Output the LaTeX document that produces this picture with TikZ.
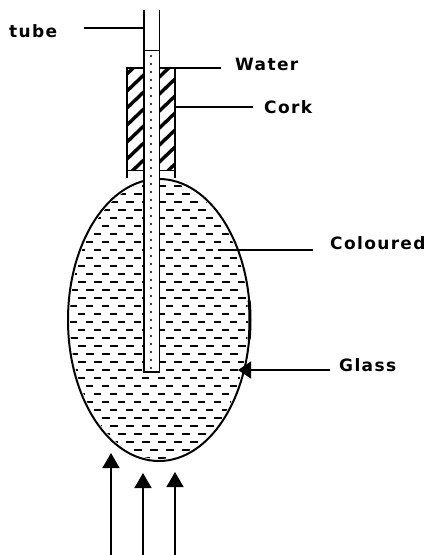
\documentclass[tikz,border=0pt]{standalone}
\usepackage{fontspec}
\setmainfont[LetterSpace=8]{DejaVu Sans}
\usetikzlibrary{arrows.meta}
\tikzset{
  lab/.style={font=\bfseries\fontsize{17}{19}\selectfont,inner sep=0pt,anchor=west},
  lead/.style={line width=1.1pt,black},
  heat/.style={line width=1.3pt,-{Triangle[length=15pt,width=17pt]}},
  dashrow/.style={line width=1.2pt,dash pattern=on 7pt off 9pt},
  dashheavy/.style={line width=2.2pt,dash pattern=on 8pt off 8pt}
}
\begin{document}
\begin{tikzpicture}[x=1pt,y=-1pt]
\useasboundingbox (0,0) rectangle (430,555);
\fill[white] (0,0) rectangle (430,555);
% liquid
\begin{scope}
\clip (159,320) ellipse [x radius=89,y radius=139];
\foreach \yy [count=\i] in {186,194,...,458}{
  \pgfmathsetmacro{\xs}{isodd(\i)?62:70}
  \pgfmathtruncatemacro{\heavy}{(\yy<212)||(\yy>276&&\yy<300)||(\yy>336&&\yy<376)||(\yy>412)}
  \ifnum\heavy=1
    \draw[dashheavy] (\xs,\yy) -- (260,\yy);
  \else
    \draw[dashrow] (\xs,\yy) -- (260,\yy);
  \fi
}
\end{scope}
% bulb
\draw[line width=2pt] (159,320) ellipse [x radius=91,y radius=141];
\draw[line width=3pt] (159,320) ++(-8:91 and 141) arc [start angle=-8,end angle=8,x radius=91,y radius=141];
% cork
\fill[white] (127,68) rectangle (175,178);
\begin{scope}
\clip (127,68) rectangle (175,170);
\foreach \yy in {60,77,...,240}{
  \draw[line width=3.4pt] (127,\yy+14) -- (175,\yy-32);
}
\end{scope}
\draw[line width=2pt] (127,178) -- (127,68) -- (175,68) -- (175,178);
\draw[line width=1pt] (127,170) -- (175,170);
% tube
\fill[white] (144,50) rectangle (159.5,372);
\draw[line width=1.1pt] (144,10) -- (144,372) -- (159.5,372);
\draw[line width=1.8pt] (159.5,372) -- (159.5,10);
\draw[line width=1pt] (144,50) -- (159.5,50);
\foreach \yy in {56,64,...,368}{
  \fill (151,\yy) circle (1.05pt);
}
% labels
\node[lab] (ltube) at (9,31) {tube};
\node[lab] (lwater) at (235,64) {Water};
\node[lab] (lcork) at (264,107) {Cork};
\node[lab] (lcol) at (330,243) {Coloured};
\node[lab] (lglass) at (339,365) {Glass};
\coordinate (ptube) at (143,28);
\coordinate (pwater) at (160,68);
\coordinate (pcork) at (175,107);
\coordinate (pcol) at (218,250);
\coordinate (pglass) at (238,370);
\draw[lead,line width=1.4pt] (84,28) -- (ptube);
\draw[lead] (pwater) -- (221,68);
\draw[lead,line width=1.5pt] (pcork) -- (253,107);
\draw[lead,line width=1.5pt] (pcol) -- (313,250);
\draw[lead,-{Triangle[length=13pt,width=17pt]}] (330,370) -- (pglass);
% heat arrows
\coordinate (a1) at (111,453);
\coordinate (a2) at (143,473);
\coordinate (a3) at (175,472);
\draw[heat] (111,555) -- (a1);
\draw[heat] (143,555) -- (a2);
\draw[heat] (175,555) -- (a3);
\end{tikzpicture}
\end{document}
